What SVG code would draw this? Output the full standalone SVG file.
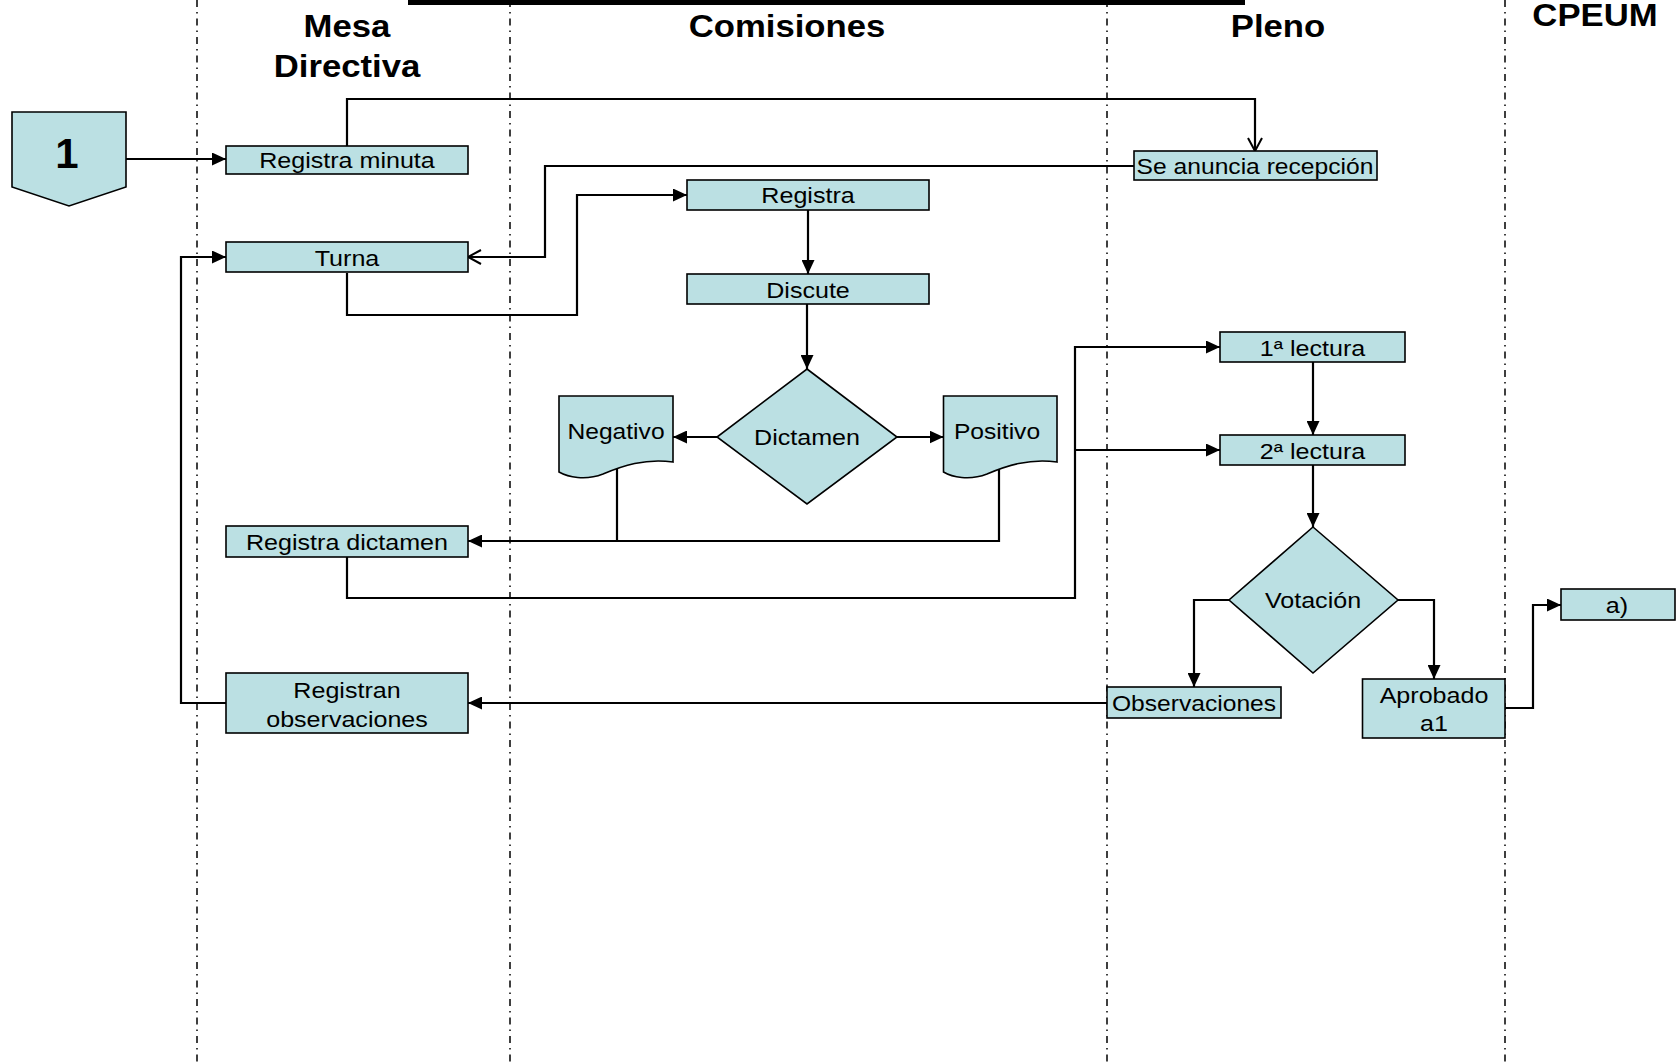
<svg xmlns="http://www.w3.org/2000/svg" width="1680" height="1062" viewBox="0 0 1680 1062">
  <style>
    .lane { stroke: #000; stroke-width: 1.5; stroke-dasharray: 7 5 1.5 5; fill: none; }
    .box { fill: #BBE0E3; stroke: #000; stroke-width: 1.6; }
    .conn { fill: none; stroke: #000; stroke-width: 2.2; }
    .lbl { font-family: "Liberation Sans", Arial, sans-serif; font-size: 22px; fill: #000; text-anchor: middle; }
    .hdr { font-family: "Liberation Sans", Arial, sans-serif; font-size: 31px; font-weight: bold; fill: #000; text-anchor: middle; }
  </style>
  <defs>
    <marker id="arrow" markerUnits="userSpaceOnUse" markerWidth="15" markerHeight="13" refX="14" refY="6.5" orient="auto">
      <path d="M0,0 L14,6.5 L0,13 Z" fill="#000"/>
    </marker>
    <marker id="open" markerUnits="userSpaceOnUse" markerWidth="16" markerHeight="16" refX="14" refY="8" orient="auto">
      <path d="M1,1 L14,8 L1,15" fill="none" stroke="#000" stroke-width="2"/>
    </marker>
  </defs>

  <rect width="1680" height="1062" fill="#fff"/>

  <!-- swimlane separators -->
  <g id="lanes">
    <line class="lane" x1="197" y1="0" x2="197" y2="1062"/>
    <line class="lane" x1="510" y1="0" x2="510" y2="1062"/>
    <line class="lane" x1="1107" y1="0" x2="1107" y2="1062"/>
    <line class="lane" x1="1505" y1="0" x2="1505" y2="1062"/>
    <rect x="408" y="0" width="837" height="5" fill="#000"/>
  </g>

  <!-- lane headers -->
  <g id="headers">
    <text class="hdr" transform="translate(347,37) scale(1.12,1)">Mesa</text>
    <text class="hdr" transform="translate(347,77) scale(1.12,1)">Directiva</text>
    <text class="hdr" transform="translate(787,37) scale(1.12,1)">Comisiones</text>
    <text class="hdr" transform="translate(1278,37) scale(1.12,1)">Pleno</text>
    <text class="hdr" transform="translate(1595,26) scale(1.12,1)">CPEUM</text>
  </g>

  <!-- connectors -->
  <g id="connectors">
    <path class="conn" d="M126,159 H226" marker-end="url(#arrow)"/>
    <path class="conn" d="M347,146 V99 H1255 V151" marker-end="url(#open)"/>
    <path class="conn" d="M1134,166 H545 V257 H468" marker-end="url(#open)"/>
    <path class="conn" d="M347,273 V315 H577 V195 H687" marker-end="url(#arrow)"/>
    <path class="conn" d="M808,210 V274" marker-end="url(#arrow)"/>
    <path class="conn" d="M807,304 V369" marker-end="url(#arrow)"/>
    <path class="conn" d="M717,437 H673" marker-end="url(#arrow)"/>
    <path class="conn" d="M897,437 H943.5" marker-end="url(#arrow)"/>
    <path class="conn" d="M617,462 V541 H468" marker-end="url(#arrow)"/>
    <path class="conn" d="M999,462 V541 H617"/>
    <path class="conn" d="M347,557 V598 H1075 V347 H1220" marker-end="url(#arrow)"/>
    <path class="conn" d="M1075,450 H1220" marker-end="url(#arrow)"/>
    <path class="conn" d="M1313,362 V435" marker-end="url(#arrow)"/>
    <path class="conn" d="M1313,465 V527" marker-end="url(#arrow)"/>
    <path class="conn" d="M1229,600 H1194 V687" marker-end="url(#arrow)"/>
    <path class="conn" d="M1398,600 H1434 V679" marker-end="url(#arrow)"/>
    <path class="conn" d="M1505,708 H1533 V605 H1561" marker-end="url(#arrow)"/>
    <path class="conn" d="M1107,703 H468" marker-end="url(#arrow)"/>
    <path class="conn" d="M226,703 H181 V257 H226" marker-end="url(#arrow)"/>
  </g>

  <!-- nodes -->
  <g id="n-start">
    <path class="box" d="M12,112 H126 V187 L69,206 L12,187 Z"/>
    <text class="hdr" x="67" y="168" style="font-size:42px">1</text>
  </g>
  <g id="n-registra-minuta">
    <rect class="box" x="226" y="146" width="242" height="28"/>
    <text class="lbl" transform="translate(347,168) scale(1.14,1)">Registra minuta</text>
  </g>
  <g id="n-turna">
    <rect class="box" x="226" y="242" width="242" height="30"/>
    <text class="lbl" transform="translate(347,265.5) scale(1.14,1)">Turna</text>
  </g>
  <g id="n-se-anuncia">
    <rect class="box" x="1134" y="151" width="243" height="29"/>
    <text class="lbl" transform="translate(1255,173.5) scale(1.12,1)">Se anuncia recepción</text>
  </g>
  <g id="n-registra">
    <rect class="box" x="687" y="180" width="242" height="30"/>
    <text class="lbl" transform="translate(808,203) scale(1.14,1)">Registra</text>
  </g>
  <g id="n-discute">
    <rect class="box" x="687" y="274" width="242" height="30"/>
    <text class="lbl" transform="translate(808,297.5) scale(1.14,1)">Discute</text>
  </g>
  <g id="n-dictamen">
    <path class="box" d="M807,369 L897,437 L807,504 L717,437 Z"/>
    <text class="lbl" transform="translate(807,445) scale(1.14,1)">Dictamen</text>
  </g>
  <g id="n-negativo">
    <path class="box" d="M559,396 H673 V462 C645,458 622,466 603,474 C585,481 568,477 559,472 Z"/>
    <text class="lbl" transform="translate(616,439) scale(1.12,1)">Negativo</text>
  </g>
  <g id="n-positivo">
    <path class="box" d="M943.5,396 H1057 V462 C1029,458 1006,466 987,474 C969,481 952,477 943.5,472 Z"/>
    <text class="lbl" transform="translate(997,439) scale(1.12,1)">Positivo</text>
  </g>
  <g id="n-registra-dictamen">
    <rect class="box" x="226" y="526" width="242" height="31"/>
    <text class="lbl" transform="translate(347,550) scale(1.14,1)">Registra dictamen</text>
  </g>
  <g id="n-primera-lectura">
    <rect class="box" x="1220" y="332" width="185" height="30"/>
    <text class="lbl" transform="translate(1312.5,355.5) scale(1.14,1)">1ª lectura</text>
  </g>
  <g id="n-segunda-lectura">
    <rect class="box" x="1220" y="435" width="185" height="30"/>
    <text class="lbl" transform="translate(1312.5,458.5) scale(1.14,1)">2ª lectura</text>
  </g>
  <g id="n-votacion">
    <path class="box" d="M1313,527 L1398,600 L1313,673 L1229,600 Z"/>
    <text class="lbl" transform="translate(1313,608) scale(1.14,1)">Votación</text>
  </g>
  <g id="n-observaciones">
    <rect class="box" x="1107" y="687" width="174" height="31"/>
    <text class="lbl" transform="translate(1194,711) scale(1.12,1)">Observaciones</text>
  </g>
  <g id="n-aprobado">
    <rect class="box" x="1362.5" y="679" width="142.5" height="59"/>
    <text class="lbl" transform="translate(1434,703) scale(1.14,1)">Aprobado</text>
    <text class="lbl" transform="translate(1434,731) scale(1.14,1)">a1</text>
  </g>
  <g id="n-a">
    <rect class="box" x="1561" y="589" width="114" height="31"/>
    <text class="lbl" transform="translate(1617,613) scale(1.14,1)">a)</text>
  </g>
  <g id="n-registran-observaciones">
    <rect class="box" x="226" y="673" width="242" height="60"/>
    <text class="lbl" transform="translate(347,698) scale(1.14,1)">Registran</text>
    <text class="lbl" transform="translate(347,726.5) scale(1.14,1)">observaciones</text>
  </g>
</svg>
